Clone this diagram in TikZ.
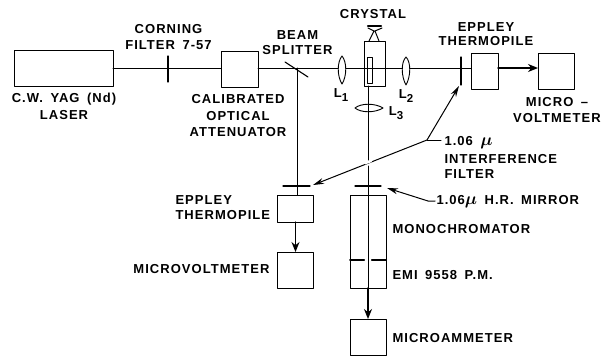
\documentclass[tikz,border=0pt]{standalone}
\usepackage{amsmath}
\usepackage{fontspec}
\usetikzlibrary{arrows.meta}
\setmainfont[LetterSpace=8,WordSpace=1.6]{Liberation Sans}
\newcommand{\subnum}[1]{\raisebox{-4pt}{\fontsize{11.5}{12}\selectfont #1}}
\newcommand{\micro}{{\fontsize{16}{14}\selectfont$\boldsymbol{\mu}$}}
\tikzset{
	box/.style={draw,minimum width=#1,minimum height=36,inner sep=0,outer sep=0},
	lbl/.style={font=\bfseries\fontsize{13}{14}\selectfont,inner sep=0,align=center},
	lbll/.style={lbl,anchor=west,align=left},
	tick/.style={line width=1.1},
	lens/.style={draw,fill=white,line width=.9},
	heavy/.style={->,line width=1.5,>={Stealth[length=10,width=8]}},
	leader/.style={->,line width=1,>={Stealth[length=11,width=6]}}
}
\begin{document}
\begin{tikzpicture}[x=1pt,y=-1pt, line join=round, line cap=round, >=stealth,line width=1]
	\useasboundingbox (0,0) rectangle (608,356);
	% boxes
	\node[box=99] (laser) at (63.5,68) {};
	\node[box=37] (atten) at (239.5,69) {};
	\node[box=27] (thermoa) at (484.5,71) {};
	\node[box=36] (voltmetera) at (556,71) {};
	\node[box=36,minimum height=27] (thermob) at (295.5,208.5) {};
	\node[box=36] (voltmeterb) at (295.5,270) {};
	\node[box=36,minimum height=65] (mono) at (368,227.5) {};
	\node[box=36,minimum height=28] (emi) at (368,274) {};
	\node[box=36] (ammeter) at (368,337) {};
	\node[box=21,minimum height=45] (cell) at (374.5,63.5) {};
	% beam
	\coordinate (split) at (297,68);
	\coordinate (thermoin) at (thermoa.west|-split);
	\coordinate (lone) at (342,68);
	\coordinate (ltwo) at (406,68);
	\coordinate (lthree) at (368,108);
	\coordinate (hub) at (427,140);
	\draw (laser.east|-split) -- (atten.west|-split);
	\draw (atten.east|-split) -- (thermoin);
	\draw (split) -- (thermob.north-|split);
	\draw[heavy] (thermoa.east|-split) -- (voltmetera.west|-split);
	\draw[heavy] (thermob.south) -- (voltmeterb.north);
	\draw[heavy] (emi.south) -- (ammeter.north);
	% filters and mirror
	\draw[tick] (168,56) -- (168,82);
	\draw[tick] (461,57) -- (461,85);
	\draw[tick] (285,62) -- (308,77);
	\draw[tick] (283,186) -- (310,186);
	\draw[tick] (355,186) -- (381,186);
	% lenses
	\draw[lens] (lone)++(0,-12) .. controls (337,62) and (337,76) .. (342,84) .. controls (347,76) and (347,62) .. (342,56) -- cycle;
	\draw[lens] (ltwo)++(0,-11) .. controls (401,62) and (401,76) .. (406,85) .. controls (411,76) and (411,62) .. (406,57) -- cycle;
	\draw[lens] (lthree)++(-13,0) .. controls (361,103) and (375,103) .. (383,108) .. controls (375,113) and (361,113) .. (355,108) -- cycle;
	\draw (368,103) -- (368,113);
	% crystal
	\draw[fill=white] (367,57) rectangle (372,83);
	\draw (364,68) -- (385,68);
	\draw (369,41) -- (374,31) -- (368,28) (379,41) -- (375,31) -- (382,28);
	\draw[line width=2.4] (368,26) -- (381,26);
	% dividers
	\draw[line width=2] (mono.south west) -- (365,260);
	\draw[line width=2] (371,260) -- (mono.south east);
	\draw[white,line width=2.4] (365.5,260) -- (370.5,260);
	% leaders
	\draw[leader] (hub) -- (313,185);
	\draw[white,line width=3] (365,163) -- (371,160.7);
	\draw (368,86) -- (368,160) (368,166) -- (368,288);
	\draw[leader] (hub) -- (459,86);
	\draw (hub) -- (441,140);
	\draw[leader] (435,201) -- (428,201) -- (387,188);
	% labels
	\node[lbl] (corning) at (168.5,37) {CORNING\\[2pt]FILTER 7-57};
	\node[lbl] (laserlbl) at (64,106.5) {C.W. YAG (Nd)\\[3pt]LASER};
	\node[lbl] (attenlbl) at (238,116) {CALIBRATED\\[2.5pt]OPTICAL\\[2.5pt]ATTENUATOR};
	\node[lbl] (splitlbl) at (297.5,42.5) {BEAM\\[1pt]SPLITTER};
	\node[lbl] (crystal) at (373,14) {CRYSTAL};
	\node[lbl] (thermolbla) at (486,34) {EPPLEY\\THERMOPILE};
	\node[lbl] (voltlbla) at (557,110) {MICRO --\\[2pt]VOLTMETER};
	\node[lbl] (lonelbl) at (341,95) {L\subnum{1}};
	\node[lbl] (ltwolbl) at (406,96) {L\subnum{2}};
	\node[lbl] (lthreelbl) at (396,113) {L\subnum{3}};
	\node[lbll] (ifilter) at (444,157) {1.06 \micro\\[4pt]INTERFERENCE\\[1pt]FILTER};
	\node[lbll] (thermolblb) at (175,207.5) {EPPLEY\\[1pt]THERMOPILE};
	\node[lbl,anchor=east] (voltlblb) at (270,269) {MICROVOLTMETER};
	\node[lbll] (mirrorlbl) at (436,202) {1.06\micro\ H.R. MIRROR};
	\node[lbll] (monolbl) at (392,229) {MONOCHROMATOR};
	\node[lbll] (emilbl) at (392,275) {EMI 9558 P.M.};
	\node[lbll] (ammlbl) at (392,338) {MICROAMMETER};
\end{tikzpicture}
\end{document}
